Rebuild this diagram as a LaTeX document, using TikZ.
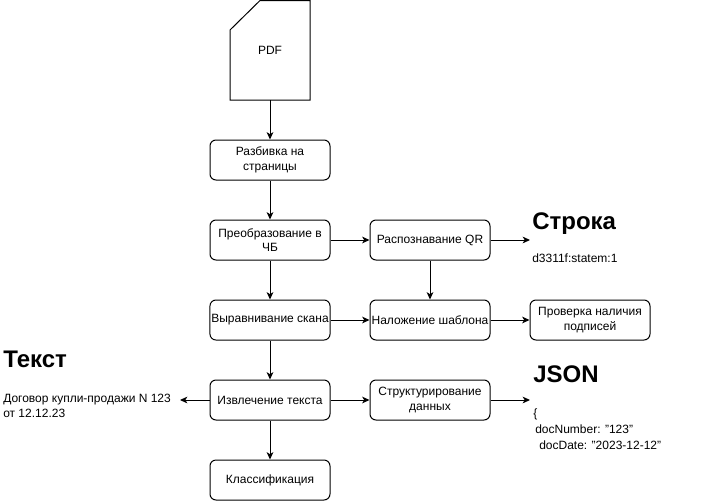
\documentclass[tikz,border=0pt]{standalone}
\usepackage{fontspec}
\setmainfont{Liberation Sans}
\usetikzlibrary{arrows.meta}
\newcommand{\dq}{\char34\relax}

\begin{document}
\begin{tikzpicture}[x=0.75pt, y=-0.75pt,
  procbox/.style={draw, line width=0.75pt, rounded corners=4.5pt,
    minimum width=90pt, minimum height=30pt, inner sep=1pt,
    font=\fontsize{9}{10.8}\selectfont, align=center},
  heading/.style={anchor=base west, inner sep=0pt, font=\fontsize{18}{21.6}\selectfont\bfseries},
  plain/.style={anchor=base west, inner sep=0pt, font=\fontsize{9}{10.8}\selectfont, align=left},
  arrow/.style={-{Stealth[length=5.5pt, width=5pt, inset=1.5pt]}, line width=0.75pt},
]
  \useasboundingbox (0,0) rectangle (710,500);
  % document
  \draw[line width=0.75pt] (230,100) -- (310,100) -- (310,0.5) -- (260,0.5) -- (230,30) -- cycle;
  \node[font=\fontsize{9}{10.8}\selectfont] (pdf) at (270,50) {PDF};
  \coordinate (pdfb) at (270,100);
  % main column
  \node[procbox] (split) at (270,160) {Разбивка на\\страницы};
  \node[procbox] (bw) at (270,240) {Преобразование в\\ЧБ};
  \node[procbox] (align) at (270,320) {Выравнивание скана};
  \node[procbox] (extract) at (270,400) {Извлечение текста};
  \node[procbox] (classify) at (270,480) {Классификация};
  % second column
  \node[procbox] (qr) at (430,240) {Распознавание QR};
  \node[procbox] (tmpl) at (430,320) {Наложение шаблона};
  \node[procbox] (struct) at (430,400) {Структурирование\\данных};
  \node[procbox] (sign) at (590,320) {Проверка наличия\\подписей};
  % outputs
  \coordinate (strout) at (530,240);
  \coordinate (jsonout) at (530,400);
  \coordinate (txtout) at (180,400);
  \node[heading] (strhead) at (532,229) {Строка};
  \node[plain] (strbody) at (532,262) {d3311f:statem:1};
  \node[heading] (txthead) at (3,367) {Текст};
  % base of a multi-line node is its last line
  \node[plain] (txtbody) at (3,417) {Договор купли-продажи N 123\\от 12.12.23};
  \node[heading] (jsonhead) at (533,382) {JSON};
  \node[plain] (jsonbody) at (533,449) {\{\\[1pt]\hspace{1.5pt}docNumber: \dq123\dq\\[1pt]\hspace{4.5pt}docDate: \dq2023-12-12\dq};
  % connectors
  \draw[arrow] (pdfb) -- (split);
  \draw[arrow] (split) -- (bw);
  \draw[arrow] (bw) -- (align);
  \draw[arrow] (align) -- (extract);
  \draw[arrow] (extract) -- (classify);
  \draw[arrow] (bw) -- (qr);
  \draw[arrow] (qr) -- (strout);
  \draw[arrow] (qr) -- (tmpl);
  \draw[arrow] (align) -- (tmpl);
  \draw[arrow] (tmpl) -- (sign);
  \draw[arrow] (extract) -- (struct);
  \draw[arrow] (struct) -- (jsonout);
  \draw[arrow] (extract) -- (txtout);
\end{tikzpicture}
\end{document}
